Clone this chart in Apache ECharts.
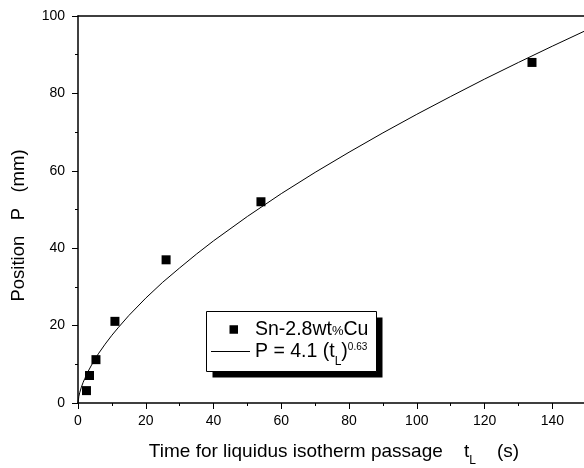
<!DOCTYPE html>
<html>
<head>
<meta charset="utf-8">
<script src="https://cdn.jsdelivr.net/npm/echarts@6/dist/echarts.min.js"></script>
<style>html,body{margin:0;padding:0;background:#fff}#c{width:584px;height:468px}</style>
</head>
<body>
<div id="c"></div>
<script>
// Measured points (t_L in s, P in mm)
var pointT = [2.5, 3.4, 5.3, 10.9, 26, 54, 134];
var pointP = [3.2, 7.1, 11.2, 21.1, 37, 52, 88];
// Fit curve
var curveT = [0, 0.25, 0.5, 1, 1.5, 2, 3, 4, 5, 6, 8, 10, 12, 15, 20, 25, 30, 35, 40, 50, 60, 70, 80, 90, 100, 110, 120, 130, 140, 150];
var curveP = [0, 1.7, 2.65, 4.1, 5.3, 6.3, 8.2, 9.8, 11.3, 12.7, 15.2, 17.5, 19.6, 22.6, 27.1, 31.2, 34.9, 38.5, 41.9, 48.2, 54.1, 59.6, 64.8, 69.8, 74.6, 79.2, 83.7, 88, 92.2, 96.3];
var yTicks = [0, 20, 40, 60, 80, 100];
var xTicks = [0, 20, 40, 60, 80, 100, 120, 140];
var xMinorTicks = [10, 30, 50, 70, 90, 110, 130];
var scatterName = 'Sn-2.8wt%Cu';
var fitName = 'P = 4.1 (tL)^0.63';

var FONT = 'Liberation Sans';
var chart = echarts.init(document.getElementById('c'), null, {renderer: 'canvas'});
var scatterData = pointT.map(function (t, i) { return [t, pointP[i]]; });
var curveData = curveT.map(function (t, i) { return [t, curveP[i]]; });
var XMAX = 149.35;

chart.setOption({
  animation: false,
  backgroundColor: '#fff',
  grid: {left: 78, top: 16, right: 0, height: 387, outerBoundsMode: 'none', containLabel: false},
  xAxis: [{
    type: 'value', min: 0, max: XMAX, position: 'bottom',
    name: 'Time for liquidus isotherm passage    {t|t}{sub|L}    (s)',
    nameLocation: 'middle', nameGap: 33,
    nameTextStyle: {fontFamily: FONT, fontSize: 19, color: '#000', padding: [0, 0, 0, 6],
      rich: {t: {fontFamily: FONT, fontSize: 19, color: '#000'},
             sub: {fontFamily: FONT, fontSize: 12, color: '#000', padding: [19, 0, 0, 0]}}},
    axisLine: {lineStyle: {color: '#000', width: 1.5}},
    axisTick: {inside: false, length: 6, customValues: xTicks, lineStyle: {color: '#000', width: 1}},
    splitLine: {show: false},
    axisLabel: {color: '#000', fontFamily: FONT, fontSize: 14, margin: 11, customValues: xTicks}
  }, {
    type: 'value', min: 0, max: XMAX, position: 'bottom',
    axisLine: {show: false},
    axisTick: {inside: false, length: 3, customValues: xMinorTicks, lineStyle: {color: '#000', width: 1}},
    splitLine: {show: false},
    axisLabel: {show: false}
  }, {
    type: 'value', min: 0, max: XMAX, position: 'top',
    axisLine: {show: true, lineStyle: {color: '#000', width: 1.5}},
    axisTick: {show: false}, splitLine: {show: false}, axisLabel: {show: false}
  }],
  yAxis: {
    type: 'value', min: 0, max: 100, interval: 20,
    name: 'Position   P   (mm)',
    nameLocation: 'middle', nameGap: 50, nameRotate: 90,
    nameTextStyle: {fontFamily: FONT, fontSize: 18.5, color: '#000', padding: [0, 32, 0, 0]},
    axisLine: {lineStyle: {color: '#000', width: 1.5}},
    axisTick: {inside: false, length: 6, lineStyle: {color: '#000', width: 1}},
    minorTick: {show: true, splitNumber: 2, length: 3, lineStyle: {color: '#000', width: 1}},
    splitLine: {show: false},
    axisLabel: {color: '#000', fontFamily: FONT, fontSize: 14, margin: 13, customValues: yTicks}
  },
  legend: [{
    data: [scatterName], orient: 'vertical', left: 229.5, top: 319.5, padding: 0,
    itemWidth: 8.5, itemHeight: 8.5, icon: 'rect', selectedMode: false,
    itemStyle: {opacity: 1},
    formatter: function () { return 'Sn-2.8wt{pct|%}Cu'; },
    textStyle: {fontFamily: FONT, fontSize: 19.5, color: '#000', padding: [0, 0, 0, 12],
      rich: {pct: {fontFamily: FONT, fontSize: 13, color: '#000', padding: [3, 0, 0, 0]}}}
  }, {
    data: [fitName], orient: 'vertical', left: 211, top: 341.5, padding: 0,
    itemWidth: 39, itemHeight: 1, icon: 'rect', selectedMode: false,
    itemStyle: {opacity: 1},
    formatter: function () { return 'P = 4.1 (t{sub|L}){sup|0.63}'; },
    textStyle: {fontFamily: FONT, fontSize: 19.5, color: '#000',
      rich: {sub: {fontFamily: FONT, fontSize: 12, color: '#000', padding: [20, 0, 0, 0]},
             sup: {fontFamily: FONT, fontSize: 10, color: '#000', padding: [0, 0, 9, 0]}}}
  }],
  graphic: [
    {type: 'rect', z: 1, shape: {x: 212.5, y: 317.5, width: 170, height: 60}, style: {fill: '#000'}},
    {type: 'rect', z: 2, shape: {x: 206.5, y: 311.5, width: 170, height: 60}, style: {fill: '#fff', stroke: '#000', lineWidth: 1}}
  ],
  series: [{
    name: scatterName, type: 'scatter', data: scatterData, xAxisIndex: 0,
    symbol: 'rect', symbolSize: 9, itemStyle: {color: '#000', opacity: 1}, z: 3
  }, {
    name: fitName, type: 'line', data: curveData, xAxisIndex: 0, symbol: 'none', showSymbol: false,
    smooth: false,
    lineStyle: {color: '#000', width: 1}, itemStyle: {color: '#000', opacity: 1}, z: 3
  }]
});
</script>
</body>
</html>
